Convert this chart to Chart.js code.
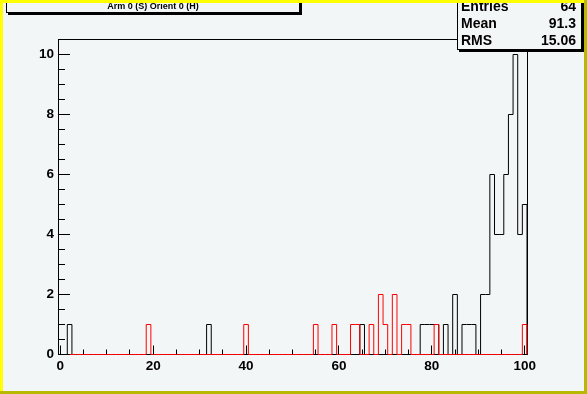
<!DOCTYPE html>
<html>
<head>
<meta charset="utf-8">
<script src="https://cdn.jsdelivr.net/npm/chart.js@4/dist/chart.umd.min.js"></script>
<style>
html,body{margin:0;padding:0;background:#f3f6f6;overflow:hidden}
canvas{display:block}
</style>
</head>
<body>
<canvas id="c" width="587" height="394"></canvas>
<script>
// ---- histogram definition ----
const X_MIN = -0.5, X_MAX = 100.5, Y_MIN = 0, Y_MAX = 10.5;
const N_BINS = 101;
const binCenters = Array.from({length: N_BINS}, (_, i) => i);

// black histogram (filled bins only; all others are 0)
const blackBins   = [2, 32, 65, 78, 79, 80, 81, 83, 85, 87, 88, 89, 91, 92, 93, 94, 95, 96, 97, 98, 99, 100];
const blackCounts = [1, 1,  1,  1,  1,  1,  1,  1,  2,  1,  1,  1,  2,  2,  6,  4,  4,  6,  8, 10,  4,   5];

// red histogram (filled bins only)
const redBins   = [19, 40, 55, 59, 63, 64, 67, 69, 70, 72, 74, 75, 81, 100];
const redCounts = [ 1,  1,  1,  1,  1,  1,  1,  2,  1,  2,  1,  1,  1,   1];

const xTickLabels = [0, 20, 40, 60, 80, 100];
const yTickLabels = [0, 2, 4, 6, 8, 10];

const titleText = "Arm 0 (S) Orient 0 (H)";
const statLabels = ["Entries", "Mean", "RMS"];
const statValues = ["64", "91.3", "15.06"];

// ---- build step outlines ----
function denseValues(bins, counts) {
  return binCenters.map(c => { const k = bins.indexOf(c); return k < 0 ? 0 : counts[k]; });
}
function stepPoints(bins, counts) {
  const v = denseValues(bins, counts);
  const half = 0.5;
  const pts = [{x: binCenters[0] - half, y: 0}];
  v.forEach((val, i) => pts.push({x: binCenters[i] - half, y: val}));
  const lastEdge = binCenters[binCenters.length - 1] + half;
  pts.push({x: lastEdge, y: v[v.length - 1]});
  pts.push({x: lastEdge, y: 0});
  return pts;
}

const BG = '#f3f6f6';
const FONT = "'Liberation Sans', Arial, Helvetica, sans-serif";

const rootPlugin = {
  id: 'rootStyle',
  beforeDraw(chart) {
    const c = chart.ctx;
    c.save();
    c.fillStyle = BG;
    c.fillRect(0, 0, chart.width, chart.height);
    c.restore();
  },
  beforeDatasetsDraw(chart) {
    const c = chart.ctx, a = chart.chartArea;
    c.save();
    c.strokeStyle = '#000';
    c.lineWidth = 1;
    c.strokeRect(a.left + 0.5, a.top, a.right - a.left, a.bottom - a.top);
    c.restore();
  },
  afterDatasetsDraw(chart) {
    const c = chart.ctx, a = chart.chartArea;
    const xs = chart.scales.x, ys = chart.scales.y;
    c.save();
    c.strokeStyle = '#000';
    c.lineWidth = 1;
    c.beginPath();
    // y ticks (inside the frame)
    for (let v = 0; v <= 10; v += 0.5) {
      const y = ys.getPixelForValue(v);
      const len = (v % 2 === 0) ? 12 : 7;
      c.moveTo(a.left, y);
      c.lineTo(a.left + len, y);
    }
    // x ticks (inside the frame)
    for (let v = 0; v <= 100; v += 5) {
      const x = Math.floor(xs.getPixelForValue(v)) + 0.5;
      const len = (v % 20 === 0) ? 9 : 5;
      c.moveTo(x, a.bottom);
      c.lineTo(x, a.bottom - len);
    }
    c.stroke();
    c.restore();
  },
  afterDraw(chart) {
    const c = chart.ctx, W = chart.width, H = chart.height;
    c.save();
    // title box
    c.fillStyle = '#000';
    c.fillRect(8, 0, 294, 15);
    c.fillStyle = BG;
    c.fillRect(6, 0, 294, 13);
    c.strokeStyle = '#000';
    c.lineWidth = 1;
    c.strokeRect(6.5, -5.5, 293, 18);
    c.fillStyle = '#000';
    c.font = "bold 9px " + FONT;
    c.textAlign = 'center';
    c.textBaseline = 'middle';
    c.fillText(titleText, 153, 7);

    // stats box
    c.fillStyle = '#000';
    c.fillRect(459, 2, 125, 50);
    c.fillStyle = BG;
    c.fillRect(457, 0, 125, 50);
    c.strokeRect(457.5, -5.5, 124, 55);
    c.fillStyle = '#000';
    c.font = "bold 14px " + FONT;
    c.textBaseline = 'middle';
    const rowsY = [7, 24, 41];
    statLabels.forEach((s, i) => {
      c.textAlign = 'left';
      c.fillText(s, 461, rowsY[i]);
      c.textAlign = 'right';
      c.fillText(statValues[i], 576, rowsY[i]);
    });

    // canvas bevel border
    c.fillStyle = '#ffff00';
    c.fillRect(0, 0, W, 3);
    c.fillRect(0, 0, 3, H);
    c.fillStyle = '#b8b800';
    c.fillRect(0, H - 3, W, 3);
    c.fillRect(W - 3, 0, 3, H);
    c.restore();
  }
};

new Chart(document.getElementById('c').getContext('2d'), {
  type: 'line',
  data: {
    datasets: [
      { label: 'red', data: stepPoints(redBins, redCounts), borderColor: '#ff0000', borderWidth: 1,
        stepped: true, pointRadius: 0, fill: false, tension: 0, clip: false, order: 0 },
      { label: 'black', data: stepPoints(blackBins, blackCounts), borderColor: '#000000', borderWidth: 1,
        stepped: true, pointRadius: 0, fill: false, tension: 0, clip: false, order: 1 }
    ]
  },
  options: {
    responsive: false,
    animation: false,
    devicePixelRatio: 1,
    parsing: false,
    layout: { padding: { top: 39.5, right: 60, left: 0, bottom: 0 } },
    plugins: { legend: { display: false }, tooltip: { enabled: false }, title: { display: false } },
    scales: {
      x: {
        type: 'linear', min: X_MIN, max: X_MAX,
        grid: { display: false, drawTicks: false },
        border: { display: false },
        afterBuildTicks: s => { s.ticks = xTickLabels.map(v => ({ value: v })); },
        afterFit: s => { s.height = 394 - 354.5; },
        ticks: { color: '#000', padding: 4, maxRotation: 0, autoSkip: false,
                 font: { family: FONT, size: 13.5, weight: 'bold' } }
      },
      y: {
        type: 'linear', min: Y_MIN, max: Y_MAX,
        grid: { display: false, drawTicks: false },
        border: { display: false },
        afterBuildTicks: s => { s.ticks = yTickLabels.map(v => ({ value: v })); },
        afterFit: s => { s.width = 58; },
        ticks: { color: '#000', padding: 4, autoSkip: false,
                 font: { family: FONT, size: 13.5, weight: 'bold' } }
      }
    }
  },
  plugins: [rootPlugin]
});
</script>
</body>
</html>
